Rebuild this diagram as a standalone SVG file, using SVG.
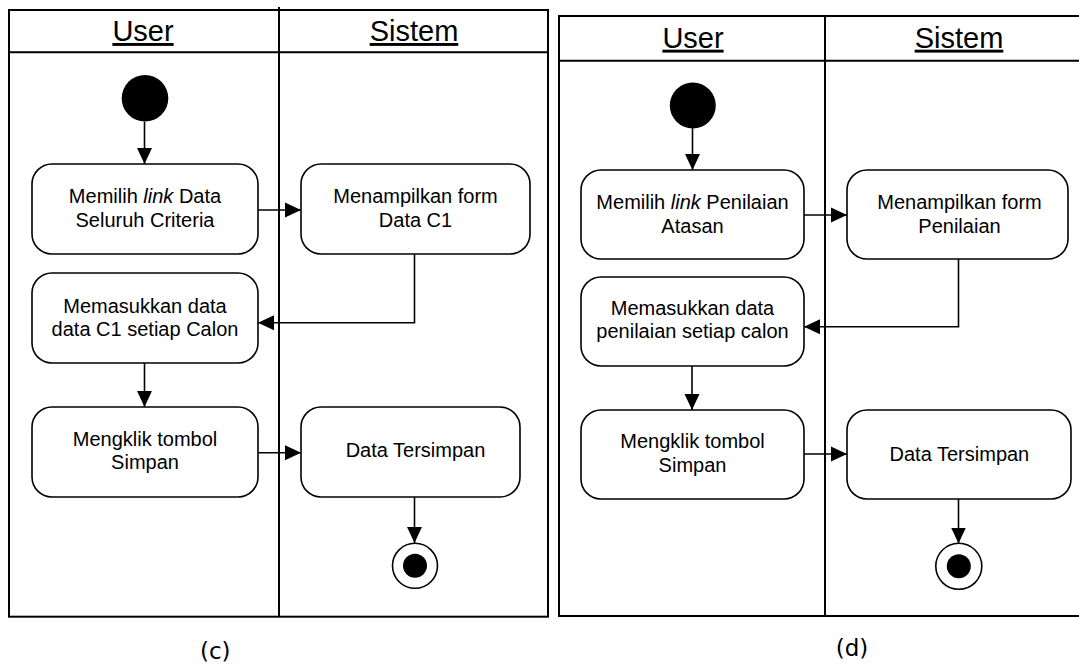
<svg xmlns="http://www.w3.org/2000/svg" width="1079" height="664" viewBox="0 0 1079 664">
<style>
.frame{fill:none;stroke:#000;stroke-width:2}
.node rect.act{fill:#fff;stroke:#000;stroke-width:1.6}
.hdr{font-family:"Liberation Sans",Arial,sans-serif;font-size:29px;text-anchor:middle;text-decoration:underline;fill:#000}
.t{font-family:"Liberation Sans",Arial,sans-serif;font-size:20px;text-anchor:middle;fill:#000}
.cap{font-family:"DejaVu Sans",sans-serif;font-size:23px;text-anchor:middle;fill:#000}
.conn path{fill:none;stroke:#000;stroke-width:1.6}
</style>
<defs>
<marker id="ah" markerUnits="userSpaceOnUse" markerWidth="16" markerHeight="16" viewBox="0 0 15 14" refX="15" refY="7" orient="auto">
<path d="M0,0 L15,7 L0,14 Z" fill="#000"/>
</marker>
</defs>
<rect width="1079" height="664" fill="#fff"/>

<!-- Diagram (c) frame -->
<g id="swimlane-c">
<rect class="frame" x="9" y="10" width="539" height="606.7"/>
<line class="frame" x1="9" y1="52.3" x2="548" y2="52.3"/>
<line class="frame" x1="279" y1="7" x2="279" y2="616.7"/>
<text class="hdr" x="143" y="41">User</text>
<text class="hdr" x="414" y="41">Sistem</text>
</g>

<!-- Diagram (d) frame -->
<g id="swimlane-d">
<rect class="frame" x="559" y="16" width="530" height="600"/>
<line class="frame" x1="559" y1="60.7" x2="1089" y2="60.7"/>
<line class="frame" x1="825" y1="16" x2="825" y2="616"/>
<text class="hdr" x="693" y="47.7">User</text>
<text class="hdr" x="959" y="47.7">Sistem</text>
</g>

<g id="connectors" class="conn">
<path d="M144.5,121.6 V164" marker-end="url(#ah)"/>
<path d="M258,210 H301" marker-end="url(#ah)"/>
<path d="M414.5,254 V322.7 H258" marker-end="url(#ah)"/>
<path d="M144.5,363 V407" marker-end="url(#ah)"/>
<path d="M258,452.7 H301" marker-end="url(#ah)"/>
<path d="M414.5,497 V543" marker-end="url(#ah)"/>

<path d="M692.5,128.3 V170" marker-end="url(#ah)"/>
<path d="M804,215 H847" marker-end="url(#ah)"/>
<path d="M958.5,259 V326.7 H804" marker-end="url(#ah)"/>
<path d="M692,366 V410" marker-end="url(#ah)"/>
<path d="M804,454 H847" marker-end="url(#ah)"/>
<path d="M958.5,499 V543.5" marker-end="url(#ah)"/>
</g>

<!-- (c) nodes -->
<g id="c-start" class="node"><circle cx="145" cy="98.3" r="23.3" fill="#000"/></g>
<g id="c-a1" class="node">
<rect class="act" x="32" y="164" width="226" height="90" rx="20" ry="20"/>
<text class="t" x="145" y="202.7">Memilih <tspan font-style="italic">link</tspan> Data</text>
<text class="t" x="145" y="226.7">Seluruh Criteria</text>
</g>
<g id="c-a2" class="node">
<rect class="act" x="301" y="164" width="229" height="90" rx="20" ry="20"/>
<text class="t" x="415.5" y="202.7">Menampilkan form</text>
<text class="t" x="415.5" y="226.7">Data C1</text>
</g>
<g id="c-a3" class="node">
<rect class="act" x="32" y="273" width="226" height="90" rx="20" ry="20"/>
<text class="t" x="145" y="312.7">Memasukkan data</text>
<text class="t" x="145" y="335.7">data C1 setiap Calon</text>
</g>
<g id="c-a4" class="node">
<rect class="act" x="32" y="407" width="226" height="90" rx="20" ry="20"/>
<text class="t" x="145" y="446">Mengklik tombol</text>
<text class="t" x="145" y="469.3">Simpan</text>
</g>
<g id="c-a5" class="node">
<rect class="act" x="301" y="407" width="219" height="90" rx="20" ry="20"/>
<text class="t" x="415.5" y="457.3">Data Tersimpan</text>
</g>
<g id="c-end" class="node">
<circle cx="415" cy="565.8" r="22.5" fill="#fff" stroke="#000" stroke-width="1.6"/>
<circle cx="415" cy="565.8" r="12" fill="#000"/>
</g>

<!-- (d) nodes -->
<g id="d-start" class="node"><circle cx="692.8" cy="105.5" r="23" fill="#000"/></g>
<g id="d-a1" class="node">
<rect class="act" x="581" y="170" width="223" height="89" rx="20" ry="20"/>
<text class="t" x="692.5" y="208.7">Memilih <tspan font-style="italic">link</tspan> Penilaian</text>
<text class="t" x="692.5" y="232.7">Atasan</text>
</g>
<g id="d-a2" class="node">
<rect class="act" x="847" y="170" width="221" height="89" rx="20" ry="20"/>
<text class="t" x="959.5" y="208.7">Menampilkan form</text>
<text class="t" x="959.5" y="232.7">Penilaian</text>
</g>
<g id="d-a3" class="node">
<rect class="act" x="581" y="277" width="223" height="89" rx="20" ry="20"/>
<text class="t" x="692.5" y="315">Memasukkan data</text>
<text class="t" x="692.5" y="337.7">penilaian setiap calon</text>
</g>
<g id="d-a4" class="node">
<rect class="act" x="581" y="410" width="223" height="89" rx="20" ry="20"/>
<text class="t" x="692.5" y="448.3">Mengklik tombol</text>
<text class="t" x="692.5" y="471.7">Simpan</text>
</g>
<g id="d-a5" class="node">
<rect class="act" x="847" y="410" width="224" height="89" rx="20" ry="20"/>
<text class="t" x="959.4" y="460.7">Data Tersimpan</text>
</g>
<g id="d-end" class="node">
<circle cx="958.8" cy="566.3" r="23" fill="#fff" stroke="#000" stroke-width="1.6"/>
<circle cx="958.8" cy="566.3" r="12" fill="#000"/>
</g>

<text class="cap" x="215.3" y="659">(c)</text>
<text class="cap" x="852" y="656">(d)</text>
</svg>
